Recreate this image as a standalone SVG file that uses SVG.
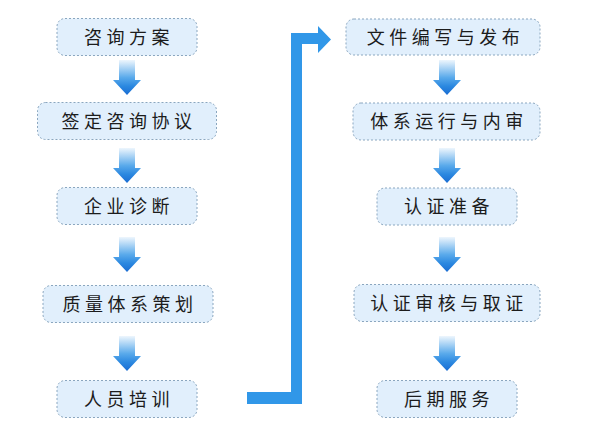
<svg xmlns="http://www.w3.org/2000/svg" xmlns:xlink="http://www.w3.org/1999/xlink" width="595" height="437" viewBox="0 0 595 437">
<style>
.box{fill:#e1effc;stroke:#8aa6bf;stroke-width:1;stroke-dasharray:2 2}
.lbl{font-family:"Noto Sans CJK SC","Noto Sans",sans-serif;font-size:18px;fill:#1c1c1c;text-anchor:middle;letter-spacing:4.5px}
.down{fill:url(#dg)}
</style>
<defs>
<linearGradient id="dg" x1="0" y1="0" x2="0" y2="1">
<stop offset="0" stop-color="#eef6fd"/>
<stop offset="0.5" stop-color="#5aaaeb"/>
<stop offset="0.75" stop-color="#2b88e0"/>
<stop offset="1" stop-color="#1a6cd2"/>
</linearGradient>
<path id="da" class="down" d="M-8,-35 H8 V-15 H14 L0,0 L-14,-15 H-8 Z"/>
</defs>
<rect width="595" height="437" fill="#ffffff"/>
<g id="connectors">
<use xlink:href="#da" x="127" y="95"/>
<use xlink:href="#da" x="127" y="183"/>
<use xlink:href="#da" x="127" y="272"/>
<use xlink:href="#da" x="127" y="371"/>
<use xlink:href="#da" x="447" y="95"/>
<use xlink:href="#da" x="447" y="183"/>
<use xlink:href="#da" x="447" y="272"/>
<use xlink:href="#da" x="447" y="371"/>
<path d="M247,392 H291 V33 H318 V26 L331,39.5 L318,53 V44 H302 V404 H247 Z" fill="#3197e8"/>
</g>
<g id="n1"><rect class="box" x="57" y="18.5" width="140" height="37" rx="8"/><text class="lbl" x="129" y="43.5">咨询方案</text></g>
<g id="n2"><rect class="box" x="37.5" y="102.5" width="179" height="37" rx="8"/><text class="lbl" x="129" y="127.5">签定咨询协议</text></g>
<g id="n3"><rect class="box" x="57" y="187.5" width="140" height="37" rx="8"/><text class="lbl" x="129" y="212.5">企业诊断</text></g>
<g id="n4"><rect class="box" x="43" y="285.5" width="170" height="37" rx="8"/><text class="lbl" x="130" y="310.5">质量体系策划</text></g>
<g id="n5"><rect class="box" x="57" y="380.5" width="140" height="37" rx="8"/><text class="lbl" x="129" y="405.5">人员培训</text></g>
<g id="n6"><rect class="box" x="346" y="19" width="194" height="36" rx="8"/><text class="lbl" x="445.5" y="43.5">文件编写与发布</text></g>
<g id="n7"><rect class="box" x="353" y="103" width="187" height="37" rx="8"/><text class="lbl" x="449" y="128">体系运行与内审</text></g>
<g id="n8"><rect class="box" x="377" y="188" width="140" height="37" rx="8"/><text class="lbl" x="449" y="213">认证准备</text></g>
<g id="n9"><rect class="box" x="354" y="284.5" width="186" height="37" rx="8"/><text class="lbl" x="449" y="309.5">认证审核与取证</text></g>
<g id="n10"><rect class="box" x="377" y="380.5" width="140" height="37" rx="8"/><text class="lbl" x="449" y="405.5">后期服务</text></g>
</svg>
